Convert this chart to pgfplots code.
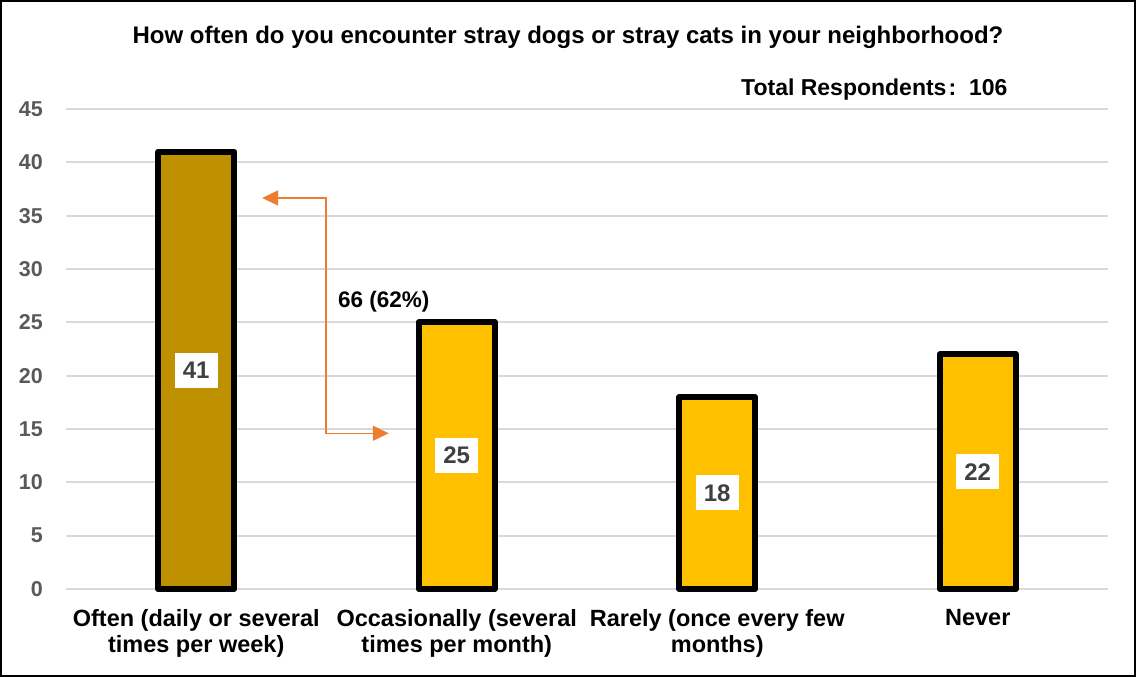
\documentclass[border=0pt]{standalone}
\usepackage{fontspec}
\setmainfont{Liberation Sans}
\usepackage{pgfplots}
\usepackage{pgfplotstable}
\pgfplotsset{compat=1.18}
\usetikzlibrary{arrows.meta}
\definecolor{darkgold}{HTML}{BF9000}
\definecolor{gold}{HTML}{FFC000}
\definecolor{gridgray}{HTML}{D9D9D9}
\definecolor{tickgray}{HTML}{595959}
\definecolor{lblgray}{HTML}{404040}
\definecolor{arroworange}{HTML}{ED7D31}

\pgfplotstableread{
x y
0 41
1 25
2 18
3 22
}\datatable

\begin{document}
\begin{tikzpicture}[x=1pt,y=1pt]
\path[use as bounding box] (0,0) rectangle (1136,677);
\draw[line width=2pt] (1,1) rectangle (1135,676);
\node[font=\fontsize{24}{28}\selectfont\bfseries, anchor=base] at (568,633.5) {How often do you encounter stray dogs or stray cats in your neighborhood?};
\node[font=\fontsize{23}{26}\selectfont\bfseries, anchor=base west, inner sep=0] at (741,581) {Total Respondents\hspace{2pt}:\hspace{13pt}106};
\begin{axis}[
  at={(66pt,88pt)}, anchor=south west,
  scale only axis, width=1042pt, height=480pt,
  xmin=-0.5, xmax=3.5, ymin=0, ymax=45,
  ytick={0,5,...,45}, xtick={0,1,2,3},
  xticklabels={{Often (daily or several\\times per week)},{Occasionally (several\\times per month)},{Rarely (once every few\\months)},{Never}},
  axis line style={draw=none},
  major tick length=0pt,
  ymajorgrids, grid style={gridgray, line width=2pt},
  clip=false,
  /pgf/number format/assume math mode=true,
  yticklabel style={font=\fontsize{21.5}{24}\selectfont\bfseries, text=tickgray, anchor=east, inner sep=0pt, xshift=-23pt},
  xticklabel style={font=\fontsize{23.5}{26.5}\selectfont\bfseries, text=black, align=center, anchor=north, inner sep=0pt, yshift=-20pt},
]
\addplot[ybar, bar shift=0pt, bar width=76pt, draw=black, line width=6pt, line join=round, fill=darkgold, restrict x to domain=-0.1:0.1] table[x=x, y=y] \datatable;
\addplot[ybar, bar shift=0pt, bar width=76pt, draw=black, line width=6pt, line join=round, fill=gold, restrict x to domain=0.9:3.1] table[x=x, y=y] \datatable;
\addplot[draw=none, mark=none, nodes near coords, point meta=\thisrow{y},
  nodes near coords style={anchor=center, fill=white, text=lblgray, font=\fontsize{24}{26}\selectfont\bfseries, minimum width=43pt, minimum height=35pt, inner sep=0pt}]
  table[x=x, y expr=\thisrow{y}/2] \datatable;
\draw[arroworange, line width=1.5pt, {Triangle[length=16pt,width=15pt]}-{Triangle[length=16pt,width=15pt]}]
  (axis cs:0.253,36.66) -- (axis cs:0.498,36.66) -- (axis cs:0.498,14.6) -- (axis cs:0.739,14.6);
\node[font=\fontsize{22.5}{25}\selectfont\bfseries] at (axis cs:0.72,26.9) {66 (62\%)};
\end{axis}
\end{tikzpicture}
\end{document}
